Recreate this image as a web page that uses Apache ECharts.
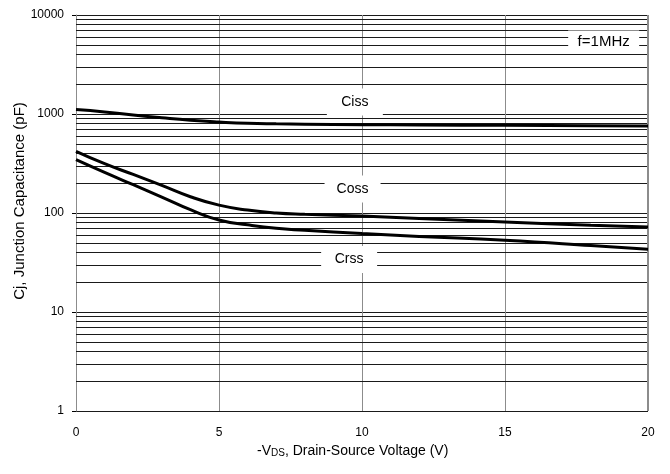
<!DOCTYPE html>
<html>
<head>
<meta charset="utf-8">
<script src="https://cdn.jsdelivr.net/npm/echarts@6/dist/echarts.min.js"></script>
<style>
  html, body { margin: 0; padding: 0; background: #fff; }
  #chart { width: 670px; height: 474px; }
</style>
</head>
<body>
<div id="chart"></div>
<script>
// Junction capacitance vs. drain-source voltage (f = 1 MHz)
const vds  = [0, 1, 2, 3, 4, 5, 6, 7, 8, 10, 12, 15, 18, 20];
const ciss = [1110, 1050, 975, 915, 865, 830, 805, 795, 790, 780, 775, 768, 762, 757];
const coss = [420, 315, 245, 190, 146, 120, 107, 100, 97, 93, 88, 81, 75, 72];
const crss = [346, 257, 193, 145, 108, 85, 76, 70, 67, 62, 58, 53, 47, 43];

const xTicks = [0, 5, 10, 15, 20];
const yTicks = [1, 10, 100, 1000, 10000];

// curve captions: [name, x, y]
const captions = [
  ['Ciss', 9.75, 1320],
  ['Coss', 9.67, 175],
  ['Crss', 9.55, 34]
];
const noteText = 'f=1MHz';
const notePos = [18.45, 5400];

// minor log grid lines (2..9 within each decade)
const minorValues = [];
for (let d = 1; d < 10000; d *= 10) {
  for (let k = 2; k <= 9; k++) minorValues.push(k * d);
}

const FONT = '"Liberation Sans", Arial, sans-serif';

const chart = echarts.init(document.getElementById('chart'), null, { renderer: 'canvas' });

function curve(name, values) {
  return {
    name: name,
    type: 'line',
    data: vds.map((v, i) => [v, values[i]]),
    smooth: 0.5,
    showSymbol: false,
    symbol: 'none',
    z: 4,
    lineStyle: { color: '#000', width: 3 }
  };
}

chart.setOption({
  animation: false,
  backgroundColor: '#fff',
  grid: { left: 76, right: 22, top: 15, bottom: 63, containLabel: false, outerBoundsMode: 'none' },
  xAxis: {
    type: 'value',
    min: xTicks[0],
    max: xTicks[xTicks.length - 1],
    interval: 5,
    axisLine: { show: false },
    axisTick: { show: false },
    axisLabel: { color: '#000', fontSize: 12, fontFamily: FONT, margin: 16 },
    splitLine: { show: true, lineStyle: { color: '#8c8c8c', width: 1 } }
  },
  yAxis: {
    type: 'log',
    logBase: 10,
    min: yTicks[0],
    max: yTicks[yTicks.length - 1],
    axisLine: { show: true, lineStyle: { color: '#8c8c8c', width: 1 } },
    axisTick: { show: true, length: 4, lineStyle: { color: '#000' } },
    axisLabel: {
      color: '#000', fontSize: 12, fontFamily: FONT, margin: 12,
      formatter: v => String(Math.round(v))
    },
    splitLine: { show: true, lineStyle: { color: '#1a1a1a', width: 1 } }
  },
  graphic: [
    {
      type: 'text',
      x: 20,
      y: 201,
      rotation: Math.PI / 2,
      style: {
        text: 'Cj, Junction Capacitance (pF)',
        font: '15px ' + FONT,
        fill: '#000',
        align: 'center',
        verticalAlign: 'middle'
      }
    },
    {
      type: 'text',
      left: 257,
      top: 444,
      style: {
        text: '{a|-V}{s|DS}{a|, Drain-Source Voltage (V)}',
        rich: {
          a: { fontSize: 14, fontFamily: FONT, fill: '#000', verticalAlign: 'bottom' },
          s: { fontSize: 10, fontFamily: FONT, fill: '#000', verticalAlign: 'bottom' }
        }
      }
    },
    {
      // right-hand frame edge
      type: 'line',
      shape: { x1: 647.5, y1: 15, x2: 647.5, y2: 411 },
      style: { stroke: '#8c8c8c', lineWidth: 1 },
      z: 3
    }
  ],
  series: [
    {
      name: 'grid',
      type: 'line',
      data: [],
      silent: true,
      markLine: {
        silent: true,
        symbol: 'none',
        z: 1,
        label: { show: false },
        lineStyle: { color: '#1a1a1a', width: 1, type: 'solid' },
        data: minorValues.map(v => ({ yAxis: v }))
      }
    },
    curve('Ciss', ciss),
    curve('Coss', coss),
    curve('Crss', crss),
    {
      name: 'captions',
      type: 'line',
      data: [],
      silent: true,
      markPoint: {
        silent: true,
        z: 10,
        symbol: 'rect',
        symbolSize: [56, 27],
        itemStyle: { color: '#fff' },
        label: {
          show: true,
          position: 'inside',
          color: '#000',
          fontSize: 14,
          fontFamily: FONT
        },
        data: captions.map(c => ({ coord: [c[1], c[2]], value: c[0], label: { formatter: c[0] } }))
          .concat([{
            coord: notePos,
            symbolSize: [71, 22],
            label: { formatter: noteText, fontSize: 15 }
          }])
      }
    }
  ]
});
</script>
</body>
</html>
